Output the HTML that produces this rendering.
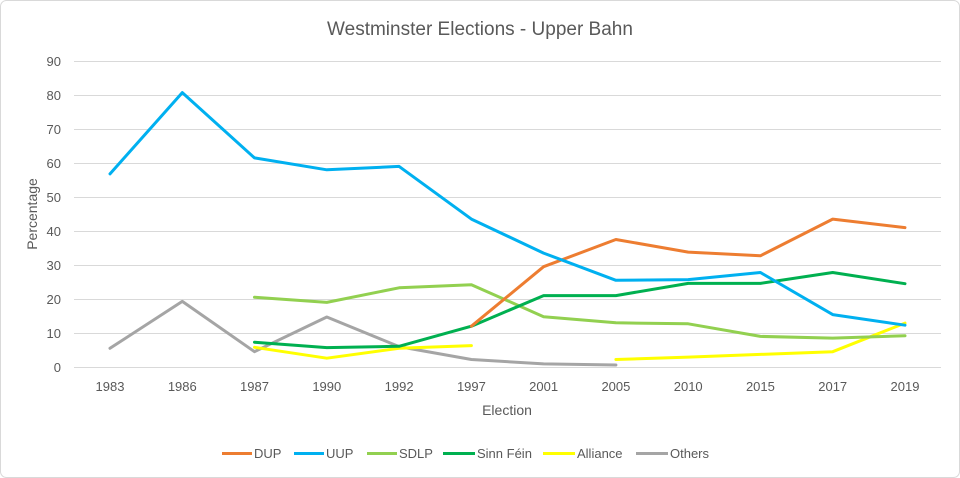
<!DOCTYPE html>
<html><head><meta charset="utf-8"><style>
html,body{margin:0;padding:0;background:#fff;}
svg{display:block;font-family:"Liberation Sans",sans-serif;}
</style></head><body>
<svg width="960" height="478" viewBox="0 0 960 478" xmlns="http://www.w3.org/2000/svg">
<rect x="0" y="0" width="960" height="478" fill="#fff"/>
<rect x="0.5" y="0.5" width="959" height="477" rx="6" fill="none" stroke="#d9d9d9"/>
<text x="480" y="35" font-size="19" fill="#595959" text-anchor="middle">Westminster Elections - Upper Bahn</text>
<g stroke="#d9d9d9" stroke-width="1">
<line x1="74" x2="941" y1="61.5" y2="61.5"/>
<line x1="74" x2="941" y1="95.5" y2="95.5"/>
<line x1="74" x2="941" y1="129.5" y2="129.5"/>
<line x1="74" x2="941" y1="163.5" y2="163.5"/>
<line x1="74" x2="941" y1="197.5" y2="197.5"/>
<line x1="74" x2="941" y1="231.5" y2="231.5"/>
<line x1="74" x2="941" y1="265.5" y2="265.5"/>
<line x1="74" x2="941" y1="299.5" y2="299.5"/>
<line x1="74" x2="941" y1="333.5" y2="333.5"/>
<line x1="74" x2="941" y1="367.5" y2="367.5"/>
</g>
<g font-size="13" fill="#595959" text-anchor="end">
<text x="61" y="66">90</text><text x="61" y="100">80</text><text x="61" y="134">70</text>
<text x="61" y="168">60</text><text x="61" y="202">50</text><text x="61" y="236">40</text>
<text x="61" y="270">30</text><text x="61" y="304">20</text><text x="61" y="338">10</text>
<text x="61" y="372">0</text>
</g>
<g font-size="13" fill="#595959" text-anchor="middle">
<text x="110" y="391">1983</text><text x="182.3" y="391">1986</text><text x="254.5" y="391">1987</text>
<text x="326.8" y="391">1990</text><text x="399.1" y="391">1992</text><text x="471.4" y="391">1997</text>
<text x="543.6" y="391">2001</text><text x="615.9" y="391">2005</text><text x="688.2" y="391">2010</text>
<text x="760.4" y="391">2015</text><text x="832.7" y="391">2017</text><text x="905" y="391">2019</text>
</g>
<text x="507" y="415" font-size="14" fill="#595959" text-anchor="middle">Election</text>
<text transform="translate(37,214) rotate(-90)" font-size="14" fill="#595959" text-anchor="middle">Percentage</text>
<g fill="none" stroke-width="3" stroke-linejoin="round" stroke-linecap="round">
<polyline stroke="#a5a5a5" points="110,348.3 182.3,301.4 254.5,351.7 326.8,317 399.1,346.6 471.4,359.5 543.6,363.9 615.9,365"/>
<polyline stroke="#ffff00" points="254.5,347.3 326.8,358.2 399.1,348.3 471.4,345.6"/>
<polyline stroke="#ffff00" points="615.9,359.5 688.2,357.1 760.4,354.4 832.7,351.7 905,323.1"/>
<polyline stroke="#92d050" points="254.5,297.3 326.8,302.4 399.1,287.8 471.4,284.7 543.6,316.7 615.9,322.8 688.2,323.8 760.4,336.4 832.7,338.1 905,335.7"/>
<polyline stroke="#00b050" points="254.5,342.2 326.8,347.6 399.1,346.3 471.4,326.2 543.6,295.6 615.9,295.6 688.2,283.4 760.4,283.4 832.7,272.5 905,283.7"/>
<polyline stroke="#ed7d31" points="471.4,326.2 543.6,266.7 615.9,239.5 688.2,252.1 760.4,255.8 832.7,219.1 905,227.6"/>
<polyline stroke="#00b0f0" points="110,173.9 182.3,92.6 254.5,157.9 326.8,169.8 399.1,166.4 471.4,219.1 543.6,253.1 615.9,280.3 688.2,279.6 760.4,272.5 832.7,314.6 905,325.2"/>
</g>
<g stroke-width="3">
<line x1="222" x2="252" y1="453.5" y2="453.5" stroke="#ed7d31"/>
<line x1="294" x2="324" y1="453.5" y2="453.5" stroke="#00b0f0"/>
<line x1="367" x2="397" y1="453.5" y2="453.5" stroke="#92d050"/>
<line x1="443" x2="475" y1="453.5" y2="453.5" stroke="#00b050"/>
<line x1="543" x2="575" y1="453.5" y2="453.5" stroke="#ffff00"/>
<line x1="636" x2="668" y1="453.5" y2="453.5" stroke="#a5a5a5"/>
</g>
<g font-size="13" fill="#595959">
<text x="254" y="458">DUP</text><text x="326" y="458">UUP</text><text x="399" y="458">SDLP</text>
<text x="477" y="458">Sinn Féin</text><text x="577" y="458">Alliance</text><text x="670" y="458">Others</text>
</g>
</svg>
</body></html>
